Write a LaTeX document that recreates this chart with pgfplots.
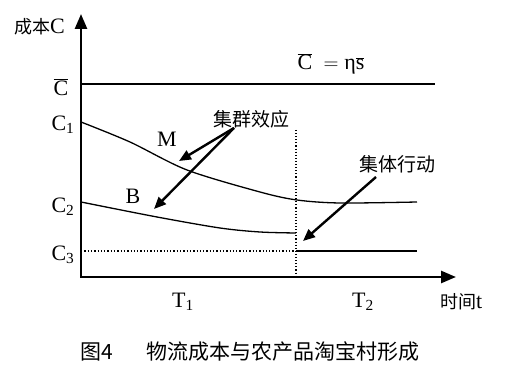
\documentclass[border=0pt]{standalone}
\usepackage{pgfplots}
\pgfplotsset{compat=1.18}
\usetikzlibrary{arrows.meta}
\usepackage{fontspec}
\setmainfont{Liberation Serif}
\newfontfamily\cjk{Noto Sans CJK SC}
\begin{document}
\begin{tikzpicture}
\begin{axis}[
  scale only axis, width=523pt, height=374pt,
  xmin=0, xmax=523, ymin=0, ymax=374, y dir=reverse,
  hide axis, clip=false,
]
\draw[draw=none] (rel axis cs:0,0) rectangle (rel axis cs:1,1);
% axes
\addplot[line width=2.6pt, -{Triangle[length=15pt,width=12pt]}] coordinates {(81,277) (81,14)};
\addplot[line width=2.6pt, -{Triangle[length=15pt,width=12pt]}] coordinates {(80,277) (456,277)};
% C bar line
\addplot[line width=1.3pt] coordinates {(81,84) (435,84)};
% M curve
\addplot[line width=1.3pt, smooth] coordinates {(81,122) (130,142) (187,170) (260,192) (297,200) (340,203) (417,202)};
% B curve
\addplot[line width=1.3pt, smooth] coordinates {(81,202) (157,217) (220,228) (260,232) (296,233)};
% C3 line
\addplot[line width=1.3pt, dotted] coordinates {(81,251) (296,251)};
\addplot[line width=1.3pt] coordinates {(296,251) (417,251)};
% vertical dotted
\addplot[line width=1.1pt, dotted] coordinates {(296,130) (296,277)};
% annotation arrows
\addplot[line width=2.4pt, -{Triangle[length=12pt,width=10pt]}] coordinates {(234,128) (179,161)};
\addplot[line width=2.4pt, -{Triangle[length=12pt,width=10pt]}] coordinates {(234,128) (154,209)};
\addplot[line width=2.4pt, -{Triangle[length=12pt,width=10pt]}] coordinates {(376,177) (303,241)};
% labels
\node[anchor=west, inner sep=0pt] at (axis cs:14,27) {\cjk\fontsize{18}{20}\selectfont 成本\rmfamily\fontsize{22}{24}\selectfont C};
\node[inner sep=0pt] at (axis cs:61,87) {\fontsize{22}{24}\selectfont $\overline{\mbox{C}}$};
\node[inner sep=0pt] at (axis cs:63,125) {\fontsize{22}{24}\selectfont C\textsubscript{1}};
\node[inner sep=0pt] at (axis cs:63,207) {\fontsize{22}{24}\selectfont C\textsubscript{2}};
\node[inner sep=0pt] at (axis cs:63,255) {\fontsize{22}{24}\selectfont C\textsubscript{3}};
\node[inner sep=0pt] at (axis cs:331,64) {\fontsize{22}{24}\selectfont $\overline{\mbox{C}}$ ${}=\mbox{η}\overline{\mbox{s}}$};
\node[inner sep=0pt] at (axis cs:167,139) {\fontsize{22}{24}\selectfont M};
\node[inner sep=0pt] at (axis cs:133,196) {\fontsize{22}{24}\selectfont B};
\node[inner sep=0pt] at (axis cs:251,119) {\cjk\fontsize{19}{21}\selectfont 集群效应};
\node[inner sep=0pt] at (axis cs:397,164) {\cjk\fontsize{19}{21}\selectfont 集体行动};
\node[inner sep=0pt] at (axis cs:183,302) {\fontsize{22}{24}\selectfont T\textsubscript{1}};
\node[inner sep=0pt] at (axis cs:363,302) {\fontsize{22}{24}\selectfont T\textsubscript{2}};
\node[anchor=west, inner sep=0pt] at (axis cs:440,302) {\cjk\fontsize{18}{20}\selectfont 时间\rmfamily\fontsize{22}{24}\selectfont t};
\node[anchor=west, inner sep=0pt] at (axis cs:80,352) {\cjk\fontsize{21}{23}\selectfont 图4\hspace{1.6em}物流成本与农产品淘宝村形成};
\end{axis}
\end{tikzpicture}
\end{document}
